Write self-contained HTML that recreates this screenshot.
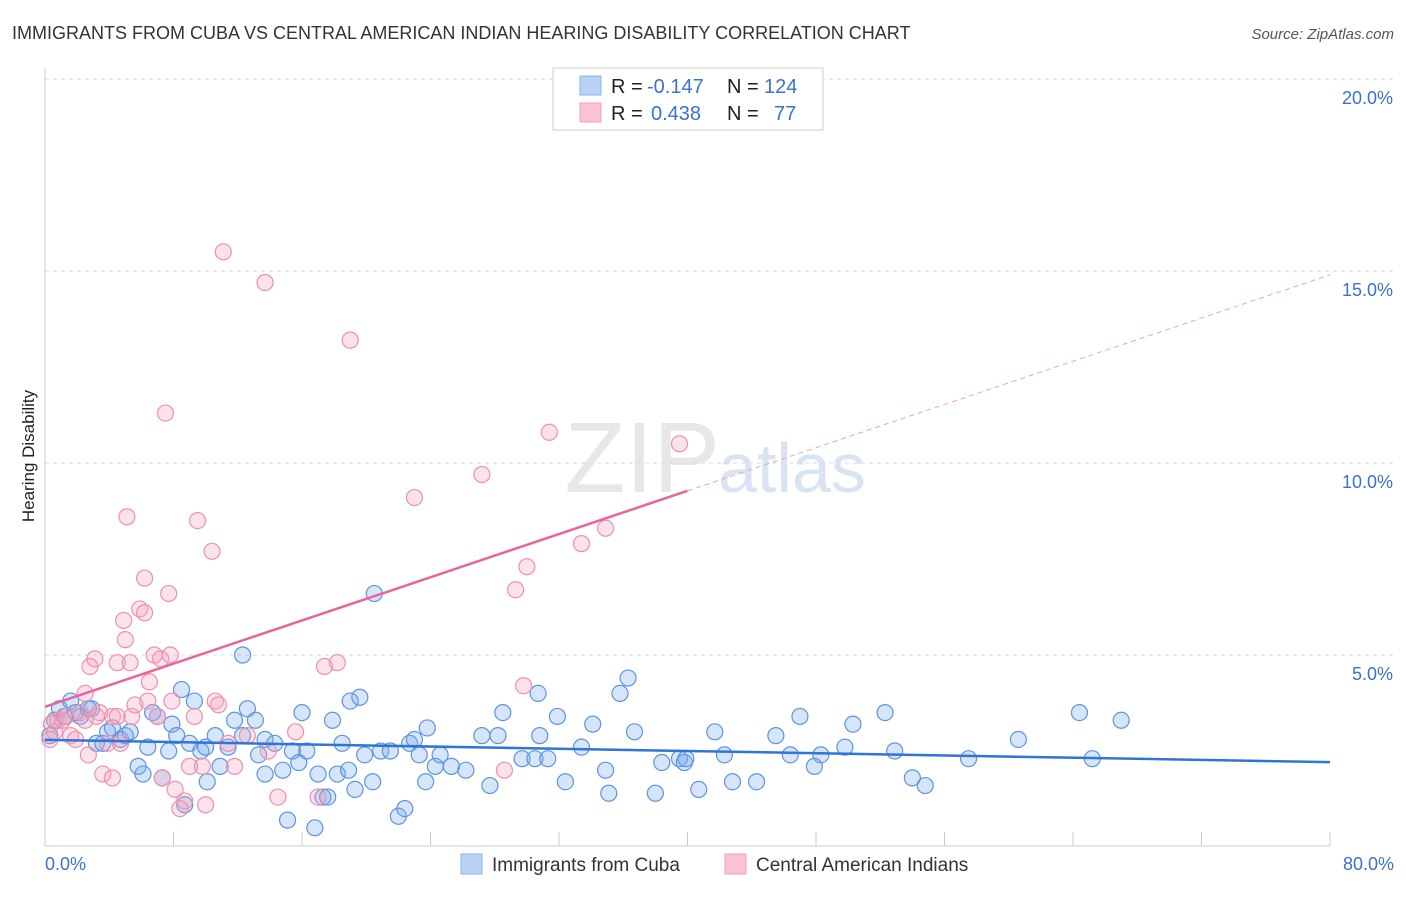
<!DOCTYPE html>
<html><head><meta charset="utf-8"><style>
body{margin:0;background:#fff;font-family:"Liberation Sans",sans-serif;}
svg text{font-family:"Liberation Sans",sans-serif;}
</style></head><body>
<svg id="chart" width="1406" height="892" xmlns="http://www.w3.org/2000/svg">
<text x="12" y="39" font-size="18" fill="#333">IMMIGRANTS FROM CUBA VS CENTRAL AMERICAN INDIAN HEARING DISABILITY CORRELATION CHART</text>
<text x="1394" y="39" font-size="15" fill="#555" text-anchor="end" font-style="italic">Source: ZipAtlas.com</text>
<text x="720" y="492" font-size="100" fill="#ddd" text-anchor="end" font-family="Liberation Serif" opacity="0.7">ZIP</text>
<text x="718" y="492" font-size="70" fill="#c8daf0" opacity="0.7">atlas</text>
<text x="34" y="456" font-size="17" fill="#222" text-anchor="middle" transform="rotate(-90 34 456)">Hearing Disability</text>
<g id="grid"></g><g id="marks"></g>
<g>
<rect x="553" y="68" width="270" height="62" fill="#fff" stroke="#ccc"/>
<rect x="580" y="76" width="21" height="19" fill="#b8d3f5" stroke="#8ab3ea"/>
<rect x="580" y="103" width="21" height="19" fill="#f9c3d3" stroke="#f0a0b8"/>
<text x="611" y="93" font-size="20" fill="#222">R = </text><text x="647" y="93" font-size="20" fill="#3a72cc">-0.147</text>
<text x="727" y="93" font-size="20" fill="#222">N = </text><text x="764" y="93" font-size="20" fill="#3a72cc">124</text>
<text x="611" y="120" font-size="20" fill="#222">R = </text><text x="651" y="120" font-size="20" fill="#3a72cc">0.438</text>
<text x="727" y="120" font-size="20" fill="#222">N = </text><text x="774" y="120" font-size="20" fill="#3a72cc">77</text>
</g>
<g>
<rect x="461" y="854" width="21" height="20" fill="#b8d3f5" stroke="#8ab3ea"/>
<text x="492" y="871" font-size="19" fill="#333">Immigrants from Cuba</text>
<rect x="725" y="854" width="21" height="20" fill="#f9c3d3" stroke="#f0a0b8"/>
<text x="756" y="871" font-size="19" fill="#333">Central American Indians</text>
</g>
<text x="45" y="870" font-size="18" fill="#3a72cc">0.0%</text>
<text x="1394" y="870" font-size="18" fill="#3a72cc" text-anchor="end">80.0%</text>
</svg>
<script>
const yTicks=[5,10,15,20];
const blueX=[0.3,0.6,0.9,1.2,1.6,1.9,2.2,2.7,2.9,3.2,3.6,3.9,4.2,4.7,5.0,5.3,5.8,6.1,6.4,6.7,7.0,7.3,7.7,7.9,8.2,8.5,8.7,9.0,9.3,9.7,10.0,10.1,10.6,10.9,11.4,11.8,12.3,12.3,12.6,13.1,13.3,13.7,13.7,14.3,14.8,15.1,15.4,15.8,16.0,16.3,16.8,17.0,17.3,17.6,17.9,18.2,18.5,18.9,19.0,19.3,19.6,19.9,20.4,20.5,20.9,21.5,22.0,22.4,22.7,23.0,23.3,23.7,23.8,24.3,24.6,25.3,26.2,27.2,27.7,28.2,28.5,29.7,30.5,30.7,30.8,31.3,31.9,32.4,33.4,34.1,34.9,35.1,35.8,36.3,36.7,38.0,38.4,39.5,39.8,39.9,40.7,41.7,42.3,42.8,44.3,45.5,46.4,47.0,47.9,48.3,49.8,50.3,52.3,52.9,54.0,54.8,57.5,60.6,64.4,65.2,67.0];
const blueY=[2.9,3.3,3.6,3.4,3.8,3.5,3.4,3.6,3.6,2.7,2.7,3.0,3.1,2.8,2.9,3.0,2.1,1.9,2.6,3.5,3.4,1.8,2.5,3.2,2.9,4.1,1.1,2.7,3.8,2.5,2.6,1.7,2.9,2.1,2.6,3.3,2.9,5.0,3.6,3.3,2.4,2.8,1.9,2.7,2.0,0.7,2.5,2.2,3.5,2.5,0.5,1.9,1.3,1.3,3.3,1.9,2.7,2.0,3.8,1.5,3.9,2.4,1.7,6.6,2.5,2.5,0.8,1.0,2.7,2.8,2.4,1.7,3.1,2.1,2.4,2.1,2.0,2.9,1.6,2.9,3.5,2.3,2.3,4.0,2.9,2.3,3.4,1.7,2.6,3.2,2.0,1.4,4.0,4.4,3.0,1.4,2.2,2.3,2.2,2.3,1.5,3.0,2.4,1.7,1.7,2.9,2.4,3.4,2.1,2.4,2.6,3.2,3.5,2.5,1.8,1.6,2.3,2.8,3.5,2.3,3.3];
const pinkX=[0.3,0.4,0.6,0.8,1.1,1.3,1.6,1.9,2.2,2.5,2.5,2.7,2.8,3.1,3.2,3.4,3.6,3.9,4.2,4.2,4.5,4.5,4.7,4.9,5.0,5.1,5.3,5.4,5.6,5.9,6.2,6.2,6.4,6.5,6.8,7.0,7.2,7.3,7.5,7.7,7.8,7.9,8.1,8.4,8.7,9.0,9.3,9.5,9.8,10.0,10.4,10.6,10.8,11.1,11.4,11.8,12.6,13.7,13.9,14.5,15.6,17.0,17.4,18.2,19.0,23.0,27.2,28.6,29.3,29.8,30.0,31.4,33.4,34.9,39.5];
const pinkY=[2.8,3.2,3.0,3.3,3.3,3.4,2.9,2.8,3.5,4.0,3.3,2.4,4.7,4.9,3.4,3.5,1.9,2.7,3.4,1.8,3.4,4.8,2.7,5.9,5.4,8.6,4.8,3.4,3.7,6.2,7.0,6.1,3.8,4.3,5.0,3.4,4.9,1.8,11.3,6.6,5.0,3.8,1.5,1.0,1.2,2.1,3.4,8.5,2.1,1.1,7.7,3.8,3.7,15.5,2.7,2.1,2.9,14.7,2.5,1.3,3.0,1.3,4.7,4.8,13.2,9.1,9.7,2.0,6.7,4.2,7.3,10.8,7.9,8.3,10.5];
const blueTrend=[2.79,2.21];
const pinkTrend=[3.65,14.9];
const NS="http://www.w3.org/2000/svg";
const X0=45,X1=1330,Y0=847,PPY=38.4;
function xs(v){return X0+(v/80)*(X1-X0);}
function ys(v){return Y0-v*PPY;}
function mk(t,a,p){const e=document.createElementNS(NS,t);for(const k in a)e.setAttribute(k,a[k]);p.appendChild(e);return e;}
const grid=document.getElementById('grid'),marks=document.getElementById('marks');
yTicks.forEach(t=>{
 const l=mk('line',{x1:45,x2:1394,y1:ys(t),y2:ys(t),stroke:'#ddd','stroke-dasharray':'4,4'},grid);
 
 
 const tx=mk('text',{x:1393,y:ys(t)+25,'font-size':18,fill:'#3a72cc','text-anchor':'end'},grid);
 tx.textContent=t.toFixed(1)+'%';
 
 
});
const ax=mk('line',{x1:45,x2:45,y1:68,y2:846,stroke:'#ccc'},grid);


const bx=mk('line',{x1:45,x2:1330,y1:846,y2:846,stroke:'#ccc'},grid);


for(let i=1;i<=10;i++){const tk=mk('line',{x1:xs(i*8),x2:xs(i*8),y1:832,y2:846,stroke:'#ccc'},grid);
 
 }
blueX.forEach((x,i)=>{const c=mk('circle',{cx:xs(x),cy:ys(blueY[i]),r:8,fill:'rgba(120,170,235,0.3)',stroke:'#5b95e0','stroke-width':1.2},marks);
 
 });
pinkX.forEach((x,i)=>{const c=mk('circle',{cx:xs(x),cy:ys(pinkY[i]),r:8,fill:'rgba(245,160,190,0.3)',stroke:'#ee8fb0','stroke-width':1.2},marks);
 
 });
const bl=mk('line',{x1:xs(0),y1:ys(blueTrend[0]),x2:xs(80),y2:ys(blueTrend[1]),stroke:'#2f74d8','stroke-width':2.5},marks);


const pm=pinkTrend[0]+(pinkTrend[1]-pinkTrend[0])*0.5;
const pl=mk('line',{x1:xs(0),y1:ys(pinkTrend[0]),x2:xs(40),y2:ys(pm),stroke:'#e8649a','stroke-width':2.5},marks);


const pd=mk('line',{x1:xs(40),y1:ys(pm),x2:xs(80),y2:ys(pinkTrend[1]),stroke:'#eea0bd','stroke-width':1,'stroke-dasharray':'5,4'},marks);


</script>
</body></html>
